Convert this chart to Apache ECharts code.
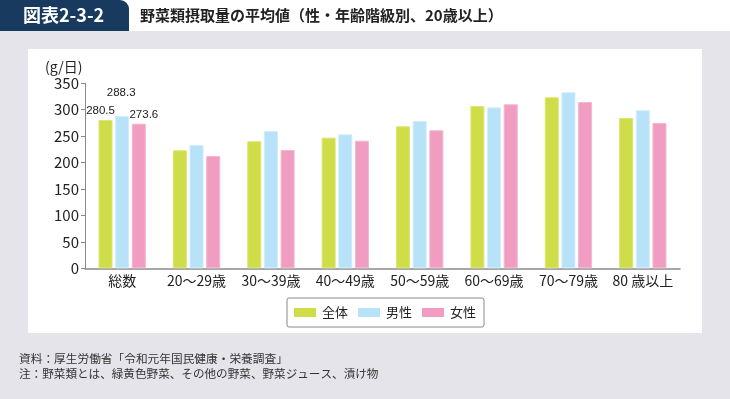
<!DOCTYPE html>
<html>
<head>
<meta charset="utf-8">
<script src="https://cdn.jsdelivr.net/npm/echarts@6/dist/echarts.min.js"></script>
<style>
html,body{margin:0;padding:0;background:#fff;}
#chart{width:730px;height:399px;}
</style>
</head>
<body>
<div id="chart"></div>
<script>
const categories = ['総数','20～29歳','30～39歳','40～49歳','50～59歳','60～69歳','70～79歳','80 歳以上'];
const seriesNames = ['全体','男性','女性'];
const totalValues  = [280.5, 223.2, 240.3, 247.1, 268.6, 307.0, 323.5, 284.3];
const maleValues   = [288.3, 233.3, 259.7, 253.5, 278.7, 304.5, 333.0, 298.9];
const femaleValues = [273.6, 212.4, 223.8, 241.4, 261.0, 310.2, 314.6, 274.9];
const yTicks = [0, 50, 100, 150, 200, 250, 300, 350];
const figureNo = '図表2-3-2';
const titleText = '野菜類摂取量の平均値（性・年齢階級別、20歳以上）';
const unitText = '(g/日)';
const sourceText = '資料：厚生労働省「令和元年国民健康・栄養調査」';
const noteText = '注：野菜類とは、緑黄色野菜、その他の野菜、野菜ジュース、漬け物';

const FONT = '"Noto Sans CJK JP", "Noto Sans", sans-serif';
const NUMFONT = '"Liberation Sans Narrow", "Liberation Sans", sans-serif';

const labelCfg = [
  {distance: 3, offset: [-5, 0]},
  {distance: 17, offset: [-1, 0]},
  {distance: 3, offset: [5, 0]}
];

function makeData(values, idx) {
  return values.map((v, i) => {
    if (i === 0) {
      return {
        value: v,
        label: {
          show: true, position: 'top',
          distance: labelCfg[idx].distance, offset: labelCfg[idx].offset,
          fontFamily: NUMFONT, fontSize: 11.5, color: '#222'
        }
      };
    }
    return v;
  });
}

const colors = ['#cfdd48', '#b7e2f8', '#f19cc1'];
const borders = ['#dbe66f', '#cdeefc', '#f5b5d1'];

const chart = echarts.init(document.getElementById('chart'), null, {renderer: 'canvas'});
chart.setOption({
  animation: false,
  backgroundColor: '#ffffff',
  textStyle: {fontFamily: FONT},
  graphic: {
    elements: [
      {type: 'rect', z: -20, shape: {x: 0, y: 31, width: 730, height: 368}, style: {fill: '#e4e4ea'}, silent: true},
      {type: 'rect', z: -19, shape: {x: 28, y: 49, width: 674, height: 284}, style: {fill: '#ffffff'}, silent: true},
      {type: 'rect', z: -18, shape: {x: 0, y: 0, width: 129, height: 31, r: [0, 9, 0, 0]}, style: {fill: '#173a5e'}, silent: true},
      {type: 'text', z: 50, x: 23, y: 15.5, style: {text: figureNo, fill: '#ffffff', font: 'bold 18px ' + FONT, textVerticalAlign: 'middle'}},
      {type: 'text', z: 50, x: 140, y: 15.5, style: {text: titleText, fill: '#222222', font: 'bold 15px ' + FONT, textVerticalAlign: 'middle'}},
      {type: 'text', z: 50, x: 45, y: 67, style: {text: unitText, fill: '#222222', font: '14px ' + FONT, textVerticalAlign: 'middle'}},
      {type: 'text', z: 50, x: 19, y: 359, style: {text: sourceText, fill: '#333333', font: '11.7px ' + FONT, textVerticalAlign: 'middle'}},
      {type: 'text', z: 50, x: 19, y: 373.5, style: {text: noteText, fill: '#333333', font: '11.6px ' + FONT, textVerticalAlign: 'middle'}}
    ]
  },
  grid: {left: 85, right: 50, top: 83.3, bottom: 130.7, containLabel: false},
  legend: {
    data: seriesNames,
    left: 287, top: 298,
    padding: [8, 8, 8, 7],
    itemWidth: 22, itemHeight: 9, itemGap: 10,
    borderColor: '#8a8a8a', borderWidth: 1, borderRadius: 2,
    backgroundColor: '#ffffff',
    icon: 'rect',
    itemStyle: {borderWidth: 0},
    textStyle: {fontFamily: FONT, fontSize: 13, color: '#222', padding: [0, 0, 0, 1]}
  },
  xAxis: {
    type: 'category',
    data: categories,
    axisLine: {show: true, lineStyle: {color: '#8a8a8a', width: 1.5}},
    axisTick: {show: false},
    axisLabel: {fontFamily: FONT, fontSize: 14, color: '#222', margin: 5, interval: 0}
  },
  yAxis: {
    type: 'value',
    min: 0, max: 350, interval: 50,
    axisLine: {show: true, lineStyle: {color: '#8a8a8a', width: 1}},
    axisTick: {show: true, inside: false, length: 4, lineStyle: {color: '#8a8a8a'}},
    splitLine: {show: false},
    axisLabel: {
      fontFamily: FONT, fontSize: 15, color: '#222', margin: 6,
      formatter: v => (yTicks.indexOf(v) >= 0 ? String(v) : '')
    }
  },
  series: [totalValues, maleValues, femaleValues].map((vals, idx) => ({
    name: seriesNames[idx],
    type: 'bar',
    data: makeData(vals, idx),
    barWidth: 14,
    barGap: '19%',
    itemStyle: {color: colors[idx], borderColor: borders[idx], borderWidth: 1},
    emphasis: {disabled: true}
  }))
});
</script>
</body>
</html>
